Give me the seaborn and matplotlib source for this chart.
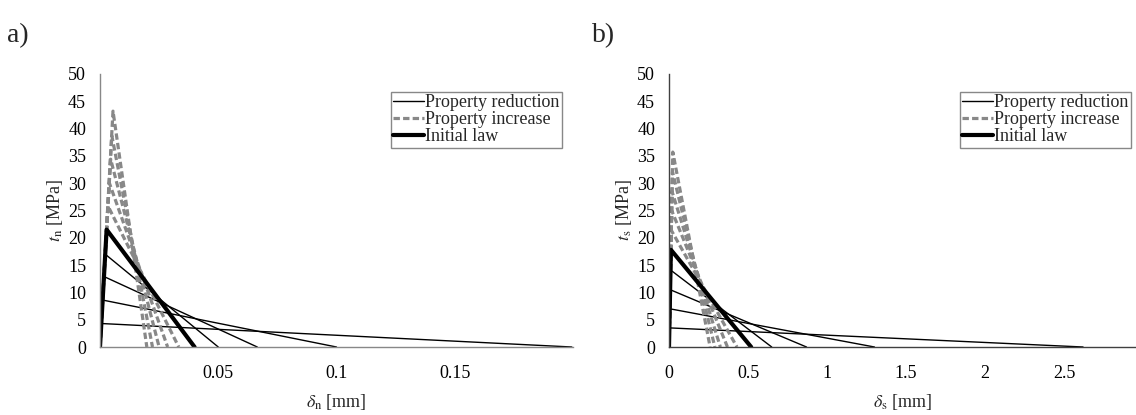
import numpy as np
import pandas as pd
import matplotlib
matplotlib.use("Agg")
import matplotlib.pyplot as plt
from matplotlib.lines import Line2D
import seaborn as sns

# ---------------- data ----------------
# Panel a) normal direction
a_init_peak = 21.5
a_init_d0 = 0.0028
a_init_df = 0.040
a_red_peak = [17.0, 12.9, 8.6, 4.3]
a_red_d0 = [0.0022, 0.0017, 0.0011, 0.0006]
a_red_df = [0.050, 0.0665, 0.100, 0.1995]
a_inc_peak = [25.8, 30.1, 34.4, 38.7, 43.2]
a_inc_d0 = [0.0034, 0.0039, 0.0045, 0.0050, 0.0055]
a_inc_df = [0.0333, 0.0286, 0.0250, 0.0222, 0.0198]

# Panel b) shear direction
b_init_peak = 17.8
b_init_d0 = 0.012
b_init_df = 0.52
b_red_peak = [14.1, 10.5, 7.0, 3.5]
b_red_d0 = [0.010, 0.007, 0.005, 0.0025]
b_red_df = [0.65, 0.87, 1.30, 2.62]
b_inc_peak = [21.4, 25.0, 28.5, 32.1, 35.7]
b_inc_d0 = [0.014, 0.017, 0.019, 0.022, 0.024]
b_inc_df = [0.43, 0.37, 0.325, 0.29, 0.26]

a_xticks = [0.05, 0.1, 0.15, 0.2]
a_xticklabels = ["0.05", "0.1", "0.15", ""]
b_xticks = [0, 0.5, 1, 1.5, 2, 2.5]
b_xticklabels = ["0", "0.5", "1", "1.5", "2", "2.5"]
yticks = [0, 5, 10, 15, 20, 25, 30, 35, 40, 45, 50]

labels = ["Property reduction", "Property increase", "Initial law"]


def build(init_peak, init_d0, init_df, red_peak, red_d0, red_df,
          inc_peak, inc_d0, inc_df):
    rows = []
    def add(kind, cid, p, d0, df):
        rows.extend([(kind, cid, 0.0, 0.0), (kind, cid, d0, p), (kind, cid, df, 0.0)])
    for i, (p, d0, df) in enumerate(zip(red_peak, red_d0, red_df)):
        add("red", f"r{i}", p, d0, df)
    for i, (p, d0, df) in enumerate(zip(inc_peak, inc_d0, inc_df)):
        add("inc", f"i{i}", p, d0, df)
    add("init", "init", init_peak, init_d0, init_df)
    return pd.DataFrame(rows, columns=["kind", "curve", "delta", "t"])


df_a = build(a_init_peak, a_init_d0, a_init_df, a_red_peak, a_red_d0, a_red_df,
             a_inc_peak, a_inc_d0, a_inc_df)
df_b = build(b_init_peak, b_init_d0, b_init_df, b_red_peak, b_red_d0, b_red_df,
             b_inc_peak, b_inc_d0, b_inc_df)

sns.set_theme(style="white")
plt.rcParams["font.family"] = ["Liberation Serif", "DejaVu Serif"]
plt.rcParams["mathtext.fontset"] = "stix"

GRAY = "#888888"
FS = 13

fig = plt.figure(figsize=(11.36, 4.15), dpi=100)
ax_a = fig.add_axes([100 / 1136, 68 / 415, 473 / 1136, 273 / 415])
ax_b = fig.add_axes([669 / 1136, 68 / 415, 467 / 1136, 273 / 415])


def draw(ax, df, xlim, xticks, xticklabels, xlabel, ylabel, spine_color, leg_x):
    sns.lineplot(data=df[df.kind == "red"], x="delta", y="t", units="curve",
                 estimator=None, sort=False, color="black", lw=1.0, ax=ax,
                 legend=False)
    sns.lineplot(data=df[df.kind == "inc"], x="delta", y="t", units="curve",
                 estimator=None, sort=False, color=GRAY, lw=2.3, ax=ax,
                 legend=False)
    for ln in ax.lines[-5:]:
        ln.set_dashes((2.0, 1.0))
    sns.lineplot(data=df[df.kind == "init"], x="delta", y="t", units="curve",
                 estimator=None, sort=False, color="black", lw=3.0, ax=ax,
                 legend=False)
    ax.set_xlim(*xlim)
    ax.set_ylim(0, 50)
    ax.set_yticks(yticks)
    ax.set_yticklabels([str(v) for v in yticks], fontsize=FS)
    ax.set_xticks(xticks)
    ax.set_xticklabels(xticklabels, fontsize=FS)
    for s in ["top", "right"]:
        ax.spines[s].set_visible(False)
    for s in ["left", "bottom"]:
        ax.spines[s].set_color(spine_color)
        ax.spines[s].set_linewidth(1.0)
    ax.tick_params(axis="both", which="major", direction="out", length=5,
                   width=1.0, color=spine_color, labelcolor="black")
    ax.tick_params(axis="x", pad=8)
    ax.tick_params(axis="y", pad=5)
    ax.set_xlabel(xlabel, fontsize=FS, labelpad=7)
    ax.set_ylabel(ylabel, fontsize=FS, labelpad=2)
    ax.grid(False)
    handles = [Line2D([], [], color="black", lw=1.0),
               Line2D([], [], color=GRAY, lw=2.3, dashes=(2.0, 1.0)),
               Line2D([], [], color="black", lw=3.0)]
    leg = ax.legend(handles, labels, loc="upper right",
                    bbox_to_anchor=(leg_x, 0.935), fontsize=FS,
                    frameon=True, fancybox=False, framealpha=1,
                    borderpad=0.15, labelspacing=0.0, handlelength=1.7,
                    handletextpad=0.05, borderaxespad=0.0)
    leg.get_frame().set_edgecolor(GRAY)
    leg.get_frame().set_linewidth(1.0)


draw(ax_a, df_a, (0, 0.2), a_xticks, a_xticklabels,
     r"$\delta_{\rm n}$ [mm]", r"$t_{\rm n}$ [MPa]", GRAY, (562 - 100) / 473)
draw(ax_b, df_b, (0, 2.955), b_xticks, b_xticklabels,
     r"$\delta_{\rm s}$ [mm]", r"$t_{\rm s}$ [MPa]", "#404040", (1131 - 669) / 467)

fig.text(7 / 1136, 1 - 36 / 415, "a)", fontsize=20, va="center", ha="left")
fig.text(592 / 1136, 1 - 36 / 415, "b)", fontsize=20, va="center", ha="left")

fig.savefig("out.png", dpi=100)
